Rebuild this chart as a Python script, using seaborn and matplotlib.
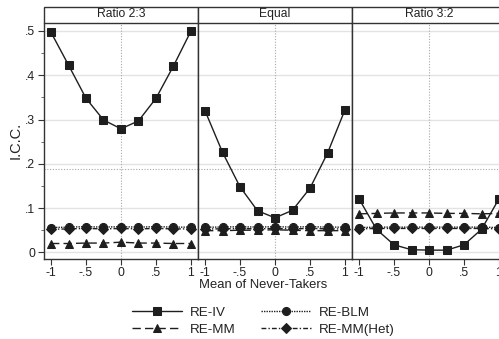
import numpy as np
import pandas as pd
import matplotlib
matplotlib.use("Agg")
import matplotlib.pyplot as plt
import seaborn as sns
from matplotlib.patches import Rectangle
from matplotlib.ticker import FuncFormatter

# ---- data ----
x_vals = [-1, -0.75, -0.5, -0.25, 0, 0.25, 0.5, 0.75, 1]
panels = ["Ratio 2:3", "Equal", "Ratio 3:2"]
series = ["RE-IV", "RE-MM", "RE-BLM", "RE-MM(Het)"]

re_iv_23 = [0.497, 0.423, 0.348, 0.299, 0.279, 0.297, 0.348, 0.421, 0.500]
re_iv_eq = [0.320, 0.226, 0.148, 0.094, 0.078, 0.095, 0.145, 0.224, 0.322]
re_iv_32 = [0.121, 0.052, 0.017, 0.006, 0.005, 0.005, 0.017, 0.052, 0.121]

re_mm_23 = [0.020, 0.020, 0.021, 0.021, 0.023, 0.021, 0.021, 0.020, 0.020]
re_mm_eq = [0.049, 0.049, 0.050, 0.050, 0.051, 0.050, 0.049, 0.049, 0.049]
re_mm_32 = [0.087, 0.088, 0.089, 0.089, 0.089, 0.088, 0.088, 0.087, 0.088]

re_blm_23 = [0.056, 0.057, 0.058, 0.057, 0.058, 0.057, 0.058, 0.057, 0.057]
re_blm_eq = [0.057, 0.057, 0.058, 0.057, 0.058, 0.057, 0.058, 0.057, 0.057]
re_blm_32 = [0.056, 0.057, 0.057, 0.057, 0.057, 0.057, 0.057, 0.057, 0.056]

re_het_23 = [0.052, 0.053, 0.054, 0.053, 0.054, 0.053, 0.054, 0.053, 0.053]
re_het_eq = [0.053, 0.053, 0.054, 0.053, 0.054, 0.053, 0.054, 0.053, 0.053]
re_het_32 = [0.053, 0.054, 0.054, 0.054, 0.054, 0.054, 0.054, 0.054, 0.053]

ref_line = 0.1875

x_ticks = [-1, -0.5, 0, 0.5, 1]
y_ticks = [0, 0.1, 0.2, 0.3, 0.4, 0.5]

data = {
    "RE-IV": [re_iv_23, re_iv_eq, re_iv_32],
    "RE-MM": [re_mm_23, re_mm_eq, re_mm_32],
    "RE-BLM": [re_blm_23, re_blm_eq, re_blm_32],
    "RE-MM(Het)": [re_het_23, re_het_eq, re_het_32],
}
rows = []
for s in series:
    for p, vals in zip(panels, data[s]):
        for xv, yv in zip(x_vals, vals):
            rows.append({"series": s, "panel": p, "x": xv, "y": yv})
df = pd.DataFrame(rows)

# ---- style ----
sns.set_style("white")
plt.rcParams["font.family"] = ["Liberation Sans", "DejaVu Sans"]
ink = "#1e1e1e"
txt = "#222222"
styles = {
    "RE-IV": dict(marker="s", linestyle="-", ms=5.5),
    "RE-MM": dict(marker="^", linestyle=(0, (6, 3)), ms=5.5),
    "RE-BLM": dict(marker="o", linestyle=(0, (1, 0.8)), ms=5.8),
    "RE-MM(Het)": dict(marker="D", linestyle=(0, (3.5, 1.5, 1, 1.5)), ms=5),
}

W, H = 499, 339
fig = plt.figure(figsize=(W / 100, H / 100), dpi=100)
left_px, pw = 44, 154
top_px, bot_px = 23, 259
axes = []
for i, p in enumerate(panels):
    l = (left_px + i * pw) / W
    ax = fig.add_axes([l, (H - bot_px) / H, pw / W, (bot_px - top_px) / H])
    axes.append(ax)

def fmt(v, pos=None):
    if abs(v) < 1e-9:
        return "0"
    s = f"{v:g}"
    return s.replace("0.", ".")

for i, (ax, p) in enumerate(zip(axes, panels)):
    ax.set_xlim(-1.1, 1.1)
    ax.set_ylim(-0.015, 0.518)
    for yt in y_ticks:
        ax.axhline(yt, color="#e3e3e3", lw=1.0, zorder=0)
    ax.axvline(0, color="#a8a8a8", lw=0.8, linestyle=(0, (1, 1.5)), zorder=0.5)
    ax.axhline(ref_line, color="#a8a8a8", lw=0.8, linestyle=(0, (1, 1.5)), zorder=0.5)
    sub = df[df["panel"] == p]
    for s in ["RE-MM", "RE-BLM", "RE-MM(Het)", "RE-IV"]:
        st = styles[s]
        sns.lineplot(data=sub[sub["series"] == s], x="x", y="y", ax=ax,
                     color=ink, lw=1.0, linestyle=st["linestyle"],
                     marker=st["marker"], markersize=st["ms"],
                     markeredgecolor=ink, markerfacecolor=ink,
                     label=s if i == 0 else None, legend=False, zorder=3)
    ax.set_xlabel("")
    ax.set_ylabel("")
    ax.set_xticks(x_ticks)
    ax.xaxis.set_major_formatter(FuncFormatter(fmt))
    ax.tick_params(axis="x", length=4, width=0.8, color="#333333",
                   labelsize=8.8, labelcolor=txt, pad=1.5, bottom=True)
    ax.set_yticks(y_ticks)
    ax.set_yticks([0.05, 0.15, 0.25, 0.35, 0.45], minor=True)
    if i == 0:
        ax.yaxis.set_major_formatter(FuncFormatter(fmt))
        ax.tick_params(axis="y", which="major", length=4, width=0.8,
                       color="#333333", labelsize=8.8, labelcolor=txt,
                       pad=2.5, left=True)
        ax.tick_params(axis="y", which="minor", length=2, width=0.6,
                       color="#555555", left=True)
    else:
        ax.tick_params(axis="y", which="both", left=False, labelleft=False)
    for sp in ["left", "right", "bottom"]:
        ax.spines[sp].set_color("#333333")
        ax.spines[sp].set_linewidth(1.0)
    ax.spines["top"].set_visible(False)
    # strip
    sh = 16 / (bot_px - top_px)
    ax.add_patch(Rectangle((0, 1), 1, sh, transform=ax.transAxes,
                           facecolor="white", edgecolor="#333333", lw=1.0,
                           clip_on=False, zorder=5))
    ax.text(0.5, 1 + sh / 2 + 0.004, p, transform=ax.transAxes, ha="center",
            va="center", fontsize=8.7, color=txt, zorder=6)

fig.text(16 / W, 1 - 140 / H, "I.C.C.", rotation=90, ha="center",
         va="center", fontsize=10.5, color=txt)
fig.text(263 / W, 1 - 285 / H, "Mean of Never-Takers", ha="center",
         va="center", fontsize=9.4, color=txt)

handles, labels = axes[0].get_legend_handles_labels()
hmap = dict(zip(labels, handles))
# ncol=2 fills column-wise: col1 = RE-IV, RE-MM ; col2 = RE-BLM, RE-MM(Het)
leg_order = ["RE-IV", "RE-MM", "RE-BLM", "RE-MM(Het)"]
fig.legend([hmap[k] for k in leg_order], leg_order, ncol=2,
           loc="center", bbox_to_anchor=(263 / W, 1 - 321 / H),
           frameon=False, fontsize=9.6, handlelength=3.8, handletextpad=0.55,
           columnspacing=1.9, labelspacing=0.35, numpoints=1,
           labelcolor=txt, borderpad=0.2)

fig.savefig("out.png", dpi=100)
